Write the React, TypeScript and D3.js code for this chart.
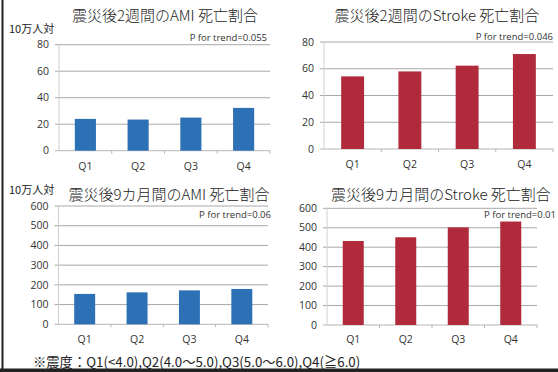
import React from "react";
import * as d3 from "d3";

const categories = ["Q1", "Q2", "Q3", "Q4"];
const ami2wValues = [24, 23.5, 25, 32.3];
const stroke2wValues = [54.3, 58, 62.3, 71];
const ami9mValues = [154, 162, 172, 179];
const stroke9mValues = [432, 451, 502, 532];
const ticks80 = [0, 20, 40, 60, 80];
const ticks600 = [0, 100, 200, 300, 400, 500, 600];
const titles = [
  "震災後2週間のAMI 死亡割合",
  "震災後2週間のStroke 死亡割合",
  "震災後9カ月間のAMI 死亡割合",
  "震災後9カ月間のStroke 死亡割合",
];
const trendLabels = [
  "P for trend=0.055",
  "P for trend=0.046",
  "P for trend=0.06",
  "P for trend=0.01",
];
const unitLabel = "10万人対";
const footnote = "※震度：Q1(<4.0),Q2(4.0～5.0),Q3(5.0～6.0),Q4(≧6.0)";

const BLUE = "#2c70b5";
const RED = "#b02a3b";
const FONT = "'Noto Sans CJK JP', 'Noto Sans', sans-serif";
const NUMFONT = "'Open Sans', 'Noto Sans', sans-serif";

type Panel = {
  values: number[];
  ticks: number[];
  max: number;
  color: string;
  title: string;
  trend: string;
  x0: number;
  x1: number;
  yTop: number;
  yBottom: number;
  titleX: number;
  titleY: number;
  trendX: number;
  trendY: number;
  labelY: number;
  unit?: { x: number; y: number };
};

const panels: Panel[] = [
  {
    values: ami2wValues, ticks: ticks80, max: 80, color: BLUE, title: titles[0], trend: trendLabels[0],
    x0: 59, x1: 270, yTop: 44.7, yBottom: 150.7, titleX: 165, titleY: 21, trendX: 267, trendY: 41, labelY: 170,
    unit: { x: 9, y: 33 },
  },
  {
    values: stroke2wValues, ticks: ticks80, max: 80, color: RED, title: titles[1], trend: trendLabels[1],
    x0: 324, x1: 553, yTop: 42, yBottom: 149, titleX: 437, titleY: 21, trendX: 553, trendY: 40, labelY: 168,
  },
  {
    values: ami9mValues, ticks: ticks600, max: 600, color: BLUE, title: titles[2], trend: trendLabels[2],
    x0: 58.5, x1: 268, yTop: 206, yBottom: 324.3, titleX: 169, titleY: 200, trendX: 271, trendY: 218, labelY: 343,
    unit: { x: 9, y: 194 },
  },
  {
    values: stroke9mValues, ticks: ticks600, max: 600, color: RED, title: titles[3], trend: trendLabels[3],
    x0: 327, x1: 537, yTop: 208.3, yBottom: 325, titleX: 441, titleY: 200, trendX: 556, trendY: 218, labelY: 343,
  },
];

function ChartPanel({ p }: { p: Panel }) {
  const x = d3.scaleBand<string>().domain(categories).range([p.x0, p.x1]).paddingInner(0.6).paddingOuter(0.3);
  const xEdges = d3.scaleBand<string>().domain(categories).range([p.x0, p.x1]).padding(0);
  const y = d3.scaleLinear().domain([0, p.max]).range([p.yBottom, p.yTop]);
  return (
    <g>
      {p.ticks.map((t) => (
        <g key={t}>
          <line x1={p.x0 - 4} x2={p.x1} y1={y(t)} y2={y(t)} stroke={t === 0 ? "#b5b5b5" : "#a8a8a8"} strokeWidth={1} />
          <text x={p.x0 - 10} y={y(t)} dy="0.35em" textAnchor="end" fontSize={10.5} fontFamily={NUMFONT} fill="#333">
            {t}
          </text>
        </g>
      ))}
      <line x1={p.x0} x2={p.x0} y1={p.yTop} y2={p.yBottom} stroke="#d0d0d0" strokeWidth={1} />
      {categories.map((c) => (
        <line key={"tk" + c} x1={xEdges(c)! + xEdges.bandwidth()} x2={xEdges(c)! + xEdges.bandwidth()} y1={p.yBottom} y2={p.yBottom + 3} stroke="#b5b5b5" />
      ))}
      {categories.map((c, i) => (
        <rect key={c} x={x(c)} width={x.bandwidth()} y={y(p.values[i])} height={p.yBottom - y(p.values[i])} fill={p.color} />
      ))}
      {categories.map((c) => (
        <text key={"l" + c} x={x(c)! + x.bandwidth() / 2} y={p.labelY} textAnchor="middle" fontSize={10.5} fontFamily={NUMFONT} fill="#333">
          {c}
        </text>
      ))}
      <text x={p.titleX} y={p.titleY} textAnchor="middle" fontSize={15} fontWeight={300} fontFamily={FONT} fill="#222">
        {p.title}
      </text>
      <text x={p.trendX} y={p.trendY} textAnchor="end" fontSize={9.5} fontFamily={NUMFONT} fill="#333">
        {p.trend}
      </text>
      {p.unit && (
        <text x={p.unit.x} y={p.unit.y} fontSize={11} fontFamily={FONT} fill="#222">
          {unitLabel}
        </text>
      )}
    </g>
  );
}

export default function App() {
  return (
    <svg width={558} height={372} style={{ position: "absolute", left: 0, top: 0, background: "#fff" }}>
      <rect x={0} y={0} width={558} height={372} fill="#fff" />
      <line x1={2.5} x2={2.5} y1={0} y2={372} stroke="#222" strokeWidth={2} />
      <rect x={0} y={368.5} width={558} height={3.5} fill="#222" />
      {panels.map((p, i) => (
        <ChartPanel key={i} p={p} />
      ))}
      <text x={33} y={367} fontSize={13.3} fontFamily={FONT} fill="#222">
        {footnote}
      </text>
    </svg>
  );
}
